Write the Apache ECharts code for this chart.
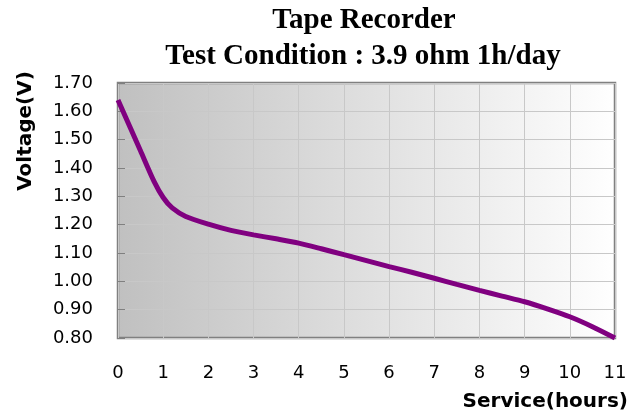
<!DOCTYPE html>
<html>
<head>
<meta charset="utf-8">
<script src="https://cdn.jsdelivr.net/npm/echarts@6/dist/echarts.min.js"></script>
<style>html,body{margin:0;padding:0;background:#fff;}#c{width:641px;height:418px;}</style>
</head>
<body>
<div id="c"></div>
<script>
var titleLines = ['Tape Recorder', 'Test Condition : 3.9 ohm 1h/day'];
var xName = 'Service(hours)';
var yName = 'Voltage(V)';
var hours = [0, 0.5, 0.8, 1, 1.2, 1.5, 2, 2.5, 3, 3.5, 4, 4.5, 5, 5.5, 6, 6.5, 7, 7.5, 8, 8.5, 9, 9.5, 10, 10.5, 11];
var voltage = [1.64, 1.46, 1.352, 1.296, 1.259, 1.229, 1.202, 1.18, 1.164, 1.15, 1.135, 1.115, 1.094, 1.073, 1.052, 1.032, 1.011, 0.989, 0.968, 0.948, 0.928, 0.903, 0.875, 0.84, 0.80];

var chart = echarts.init(document.getElementById('c'));
var data = hours.map(function (h, i) { return [h, voltage[i]]; });
var labelFont = { fontFamily: 'DejaVu Sans', fontSize: 18, color: '#000' };

chart.setOption({
  animation: false,
  grid: {
    left: 118, right: 26, top: 83, bottom: 80,
    show: true,
    borderColor: '#808080',
    borderWidth: 2.5,
    backgroundColor: new echarts.graphic.LinearGradient(0, 0, 1, 0, [
      { offset: 0, color: '#c0c0c0' },
      { offset: 1, color: '#ffffff' }
    ])
  },
  xAxis: {
    type: 'value', min: 0, max: 11, interval: 1,
    axisLine: { show: false },
    axisTick: { show: false },
    axisLabel: Object.assign({ margin: 26 }, labelFont),
    splitLine: { show: true, lineStyle: { color: '#c8c8c8', width: 1 } }
  },
  yAxis: {
    type: 'value', min: 0.8, max: 1.7, interval: 0.1,
    axisLine: { show: false },
    axisTick: { show: true, inside: true, length: 7, lineStyle: { color: '#808080', width: 1 } },
    axisLabel: Object.assign({ margin: 25, formatter: function (v) { return v.toFixed(2); } }, labelFont),
    splitLine: { show: true, lineStyle: { color: '#c8c8c8', width: 1 } }
  },
  series: [{
    type: 'line',
    data: data,
    smooth: 0.25,
    showSymbol: false,
    lineStyle: { color: '#800080', width: 5 },
    z: 5
  }],
  graphic: [
    { type: 'text', x: 364, y: 21, style: { text: titleLines[0], font: 'bold 29px "Liberation Serif"', fill: '#000', textAlign: 'center', textVerticalAlign: 'middle' } },
    { type: 'text', x: 363, y: 57, style: { text: titleLines[1], font: 'bold 29px "Liberation Serif"', fill: '#000', textAlign: 'center', textVerticalAlign: 'middle' } },
    { type: 'text', x: 628, y: 402, style: { text: xName, font: 'bold 20px "DejaVu Sans"', fill: '#000', textAlign: 'right', textVerticalAlign: 'middle' } },
    { type: 'text', x: 26, y: 131, rotation: Math.PI / 2, style: { text: yName, font: 'bold 20px "DejaVu Sans"', fill: '#000', textAlign: 'center', textVerticalAlign: 'middle' } }
  ]
});
</script>
</body>
</html>
